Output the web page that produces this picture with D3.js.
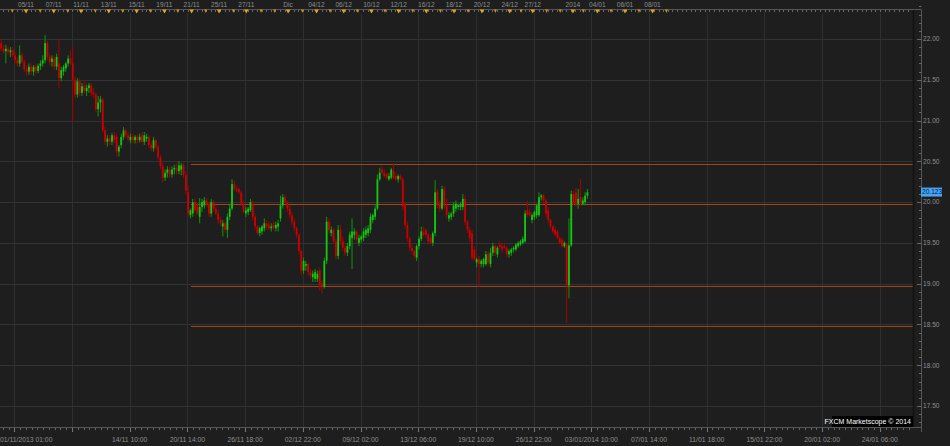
<!DOCTYPE html>
<html><head><meta charset="utf-8">
<script src="https://cdn.jsdelivr.net/npm/d3@7/dist/d3.min.js"></script>
<style>html,body{margin:0;padding:0;background:#1e1e1e;}svg{display:block;}</style>
</head><body>
<svg id="chart" width="950" height="446"></svg>
<script>
// ---- DATA (H4 candles, bar index 0 = 01/11/2013 01:00) ----
const opens = [
21.95,21.88,21.85,21.88,21.84,21.86,21.80,21.74,21.70,21.80,
21.72,21.63,21.60,21.66,21.60,21.66,21.61,21.67,21.70,21.74,
21.95,21.78,21.72,21.76,21.66,21.70,21.52,21.60,21.64,21.70,
21.76,21.70,21.50,21.32,21.48,21.34,21.42,21.36,21.40,21.43,
21.34,21.32,21.14,21.22,21.26,20.88,20.74,20.78,20.74,20.82,
20.80,20.62,20.70,20.80,20.88,20.82,20.76,20.80,20.76,20.80,
20.76,20.82,20.74,20.78,20.80,20.70,20.66,20.76,20.68,20.55,
20.44,20.30,20.36,20.40,20.34,20.40,20.42,20.38,20.40,20.45,
20.33,20.12,19.84,19.86,20.00,19.96,19.82,19.94,19.96,20.02,
19.97,19.86,20.00,19.92,19.86,19.78,19.70,19.74,19.66,19.82,
19.92,20.22,20.16,20.16,20.12,19.98,19.86,19.88,19.90,19.98,
19.82,19.70,19.62,19.64,19.68,19.74,19.72,19.68,19.72,19.68,
19.70,19.80,19.96,20.06,20.00,19.92,19.84,19.76,19.68,19.60,
19.40,19.16,19.22,19.24,19.14,19.08,19.06,19.06,19.16,19.00,
18.96,19.28,19.76,19.62,19.66,19.52,19.34,19.66,19.52,19.44,
19.38,19.46,19.56,19.60,19.64,19.50,19.54,19.56,19.60,19.62,
19.66,19.78,19.82,19.92,20.28,20.40,20.36,20.34,20.28,20.30,
20.38,20.32,20.28,20.32,20.28,19.96,19.72,19.56,19.44,19.40,
19.32,19.46,19.55,19.64,19.66,19.60,19.56,19.50,19.62,20.12,
19.98,19.92,20.16,19.96,19.80,19.82,19.86,19.92,19.94,19.94,
19.94,20.04,19.76,19.66,19.62,19.42,19.26,19.30,19.24,19.24,
19.24,19.36,19.24,19.38,19.46,19.36,19.48,19.46,19.46,19.44,
19.36,19.38,19.42,19.42,19.46,19.48,19.50,19.52,19.90,19.88,
19.78,19.82,19.84,19.84,20.06,20.08,20.02,19.90,19.78,19.70,
19.66,19.64,19.56,19.54,19.46,19.48,18.98,19.47,20.10,20.12,
19.98,20.06,19.98,20.00,20.08];
const highs = [
22.00,21.93,21.93,21.92,21.90,21.90,21.84,21.78,21.92,21.84,
21.75,21.68,21.70,21.70,21.68,21.70,21.70,21.74,21.80,22.05,
21.98,21.82,21.80,21.80,21.82,22.00,21.66,21.68,21.72,21.80,
21.86,21.90,21.54,21.52,21.52,21.46,21.48,21.44,21.46,21.46,
21.40,21.35,21.30,21.30,21.28,20.92,20.82,20.82,20.85,20.86,
20.84,20.70,20.84,20.92,20.90,20.86,20.84,20.84,20.82,20.83,
20.84,20.86,20.86,20.84,20.82,20.74,20.80,20.78,20.70,20.58,
20.48,20.40,20.44,20.44,20.44,20.46,20.48,20.50,20.48,20.48,
20.38,20.20,19.92,20.04,20.04,20.00,20.05,20.04,20.06,20.05,
20.00,20.04,20.02,19.96,19.90,19.82,19.78,19.76,19.86,19.98,
20.28,20.26,20.20,20.18,20.14,20.02,19.94,19.94,20.04,20.02,
19.86,19.72,19.70,19.72,19.80,19.78,19.76,19.74,19.76,19.76,
19.78,20.08,20.10,20.09,20.02,19.96,19.88,19.80,19.70,19.62,
19.42,19.32,19.28,19.26,19.18,19.16,19.18,19.16,19.20,19.04,
19.32,19.82,19.80,19.70,19.68,19.56,19.72,19.72,19.58,19.48,
19.50,19.64,19.80,19.68,19.66,19.60,19.60,19.68,19.70,19.72,
19.86,19.86,19.96,20.34,20.42,20.44,20.40,20.36,20.36,20.42,
20.48,20.36,20.34,20.34,20.30,20.00,19.76,19.58,19.48,19.42,
19.48,19.58,19.70,19.70,19.68,19.62,19.60,19.64,20.27,20.16,
20.02,20.20,20.20,20.04,19.88,19.88,20.00,20.02,19.98,20.00,
20.10,20.08,19.78,19.70,19.66,19.46,19.32,19.34,19.30,19.32,
19.40,19.40,19.44,19.50,19.48,19.46,19.52,19.50,19.50,19.46,
19.42,19.44,19.46,19.50,19.52,19.54,19.58,19.90,20.02,19.92,
19.86,19.90,19.98,20.12,20.10,20.10,20.04,19.94,19.80,19.72,
19.70,19.66,19.58,19.56,19.52,19.50,19.80,20.14,20.14,20.18,
20.16,20.28,20.06,20.12,20.16];
const lows = [
21.85,21.82,21.70,21.80,21.78,21.78,21.70,21.66,21.66,21.70,
21.60,21.55,21.56,21.56,21.55,21.57,21.58,21.62,21.66,21.70,
21.74,21.68,21.66,21.62,21.62,21.40,21.48,21.55,21.60,21.66,
21.68,20.98,21.28,21.28,21.30,21.30,21.33,21.30,21.34,21.30,
21.28,21.10,21.05,21.10,20.85,20.70,20.68,20.70,20.70,20.72,
20.56,20.56,20.66,20.76,20.78,20.74,20.72,20.72,20.72,20.72,
20.73,20.72,20.70,20.74,20.66,20.62,20.62,20.64,20.52,20.40,
20.24,20.26,20.30,20.30,20.30,20.34,20.34,20.34,20.33,20.30,
20.10,19.82,19.80,19.82,19.88,19.84,19.74,19.88,19.92,19.94,
19.82,19.82,19.88,19.84,19.74,19.70,19.58,19.62,19.56,19.78,
19.90,20.14,20.12,20.10,19.96,19.86,19.82,19.84,19.88,19.78,
19.66,19.60,19.58,19.60,19.64,19.66,19.66,19.64,19.66,19.64,
19.64,19.76,19.92,19.98,19.88,19.80,19.72,19.64,19.56,19.36,
19.10,19.12,19.16,19.10,19.06,19.02,19.02,19.02,18.92,18.88,
18.94,19.24,19.62,19.58,19.50,19.30,19.30,19.48,19.40,19.34,
19.34,19.42,19.18,19.54,19.50,19.46,19.50,19.52,19.56,19.58,
19.62,19.74,19.78,19.90,20.26,20.34,20.30,20.28,20.26,20.28,
20.28,20.26,20.24,20.26,19.90,19.68,19.52,19.40,19.36,19.30,
19.28,19.42,19.52,19.58,19.56,19.48,19.48,19.46,19.58,19.92,
19.88,19.90,19.92,19.80,19.76,19.78,19.82,19.88,19.90,19.90,
19.90,19.72,19.62,19.52,19.28,19.28,19.20,18.96,19.20,19.20,
19.22,19.22,19.20,19.34,19.34,19.32,19.42,19.38,19.42,19.32,
19.32,19.34,19.38,19.40,19.44,19.46,19.48,19.50,19.82,19.82,
19.74,19.78,19.80,19.82,20.02,19.98,19.82,19.74,19.68,19.62,
19.58,19.54,19.48,19.44,19.44,18.52,18.82,19.45,19.96,19.94,
19.92,19.96,19.96,19.96,20.04];
const closes = [
21.88,21.85,21.88,21.84,21.86,21.80,21.74,21.70,21.80,21.72,
21.63,21.60,21.66,21.60,21.66,21.61,21.67,21.70,21.74,21.95,
21.78,21.72,21.76,21.66,21.78,21.52,21.62,21.66,21.70,21.76,
21.70,21.50,21.32,21.48,21.34,21.42,21.36,21.40,21.43,21.34,
21.32,21.14,21.22,21.26,20.88,20.74,20.78,20.74,20.82,20.76,
20.62,20.68,20.80,20.88,20.82,20.78,20.80,20.76,20.80,20.76,
20.80,20.74,20.82,20.80,20.70,20.66,20.76,20.68,20.55,20.44,
20.30,20.36,20.40,20.34,20.40,20.42,20.38,20.45,20.45,20.33,
20.14,19.86,19.90,20.00,19.90,19.86,19.94,20.00,20.02,19.97,
19.86,20.00,19.92,19.86,19.78,19.74,19.74,19.66,19.82,19.92,
20.22,20.16,20.14,20.12,19.98,19.88,19.90,19.92,20.00,19.82,
19.70,19.62,19.68,19.70,19.74,19.70,19.68,19.70,19.68,19.72,
19.74,19.96,20.06,20.00,19.92,19.84,19.76,19.68,19.60,19.40,
19.16,19.28,19.24,19.14,19.10,19.12,19.14,19.12,18.98,18.96,
19.28,19.76,19.66,19.66,19.52,19.34,19.66,19.52,19.44,19.38,
19.46,19.60,19.64,19.64,19.54,19.56,19.58,19.64,19.66,19.68,
19.82,19.84,19.92,20.28,20.36,20.36,20.32,20.30,20.32,20.40,
20.30,20.28,20.32,20.28,19.94,19.72,19.56,19.44,19.40,19.34,
19.46,19.55,19.64,19.60,19.60,19.52,19.50,19.62,20.12,19.96,
19.92,20.16,19.96,19.84,19.84,19.86,19.96,19.98,19.96,19.97,
20.04,19.76,19.66,19.56,19.32,19.30,19.30,19.24,19.28,19.30,
19.36,19.26,19.38,19.46,19.38,19.44,19.45,19.42,19.44,19.36,
19.40,19.42,19.44,19.48,19.50,19.52,19.55,19.86,19.84,19.84,
19.84,19.88,19.96,20.06,20.08,20.02,19.86,19.78,19.70,19.64,
19.60,19.56,19.50,19.46,19.50,18.98,19.47,20.10,19.98,19.98,
20.04,20.00,20.02,20.08,20.12];

const lastPriceLabel = "20.123";
const lastPrice = 20.123;

// horizontal level lines (price) drawn from bar index levelStart to right edge
const levels = [20.465, 19.975, 18.977, 18.477];
const levelStart = 82.2;

// price axis
const priceTicks = [17.5, 18.0, 18.5, 19.0, 19.5, 20.0, 20.5, 21.0, 21.5, 22.0];

// bottom axis: labels at grid positions (bar index)
const bottomLabels = ["01/11/2013 01:00", "", "14/11 10:00", "20/11 14:00", "26/11 18:00", "02/12 22:00",
  "09/12 02:00", "13/12 06:00", "19/12 10:00", "26/12 22:00", "03/01/2014 10:00", "07/01 14:00",
  "11/01 18:00", "15/01 22:00", "20/01 02:00", "24/01 06:00"];
const bottomIdx = [5.68, 30.68, 55.68, 80.68, 105.68, 130.68, 155.68, 180.68, 205.68, 230.68,
  255.68, 280.68, 305.68, 330.68, 355.68, 380.68];

// top axis: day markers (bar index)
const topLabels = ["05/11","07/11","11/11","13/11","15/11","19/11","21/11","25/11","27/11","Dic",
  "04/12","06/12","10/12","12/12","16/12","18/12","20/12","24/12","27/12","2014","04/01","06/01","08/01"];
const topIdx = [10.75,22.75,34.6,46.6,58.7,70.7,82.5,94.4,106.2,124.3,136.6,148.4,160.4,172.2,184.2,
  196.2,208.3,220.3,230.3,247.7,258.3,270.3,282.2];
const smallDayIdx = [4.8,16.9,28.8,40.8,52.6,64.6,76.5,88.6,100.6,112.6,118.5,130.5,142.5,154.3,166.3,
  178.3,190.3,202.3,214.1,225.3,236.3,242.2,252.2,264.2,276.3,288.2];

// ---- DRAW ----
const W = 950, H = 446;
const plotL = 0, plotR = 913, plotT = 13, plotB = 427;
const svg = d3.select("#chart");
const font = "'Liberation Sans', Arial, sans-serif";
const axisCol = "#8e8e8e";

const x = d3.scaleLinear().domain([0, 254]).range([1.2, 1.2 + 2.308 * 254]);
const y = d3.scaleLinear().domain([17.5, 22]).range([406, 39]);
const maxIdx = x.invert(plotR);

svg.append("rect").attr("width", W).attr("height", H).attr("fill", "#1e1e1e");

const grid = svg.append("g");
// vertical grid
grid.selectAll("line.v").data(bottomIdx).join("line")
  .attr("x1", d => Math.round(x(d)) + 0.5).attr("x2", d => Math.round(x(d)) + 0.5)
  .attr("y1", plotT).attr("y2", plotB).attr("stroke", "#2f2f2f").attr("stroke-width", 1);
// horizontal grid
grid.selectAll("line.h").data(priceTicks).join("line")
  .attr("x1", plotL).attr("x2", plotR)
  .attr("y1", d => Math.round(y(d)) + 0.5).attr("y2", d => Math.round(y(d)) + 0.5)
  .attr("stroke", "#303236").attr("stroke-width", 1);

// level lines
svg.append("g").selectAll("line").data(levels).join("line")
  .attr("x1", x(levelStart)).attr("x2", plotR)
  .attr("y1", d => Math.round(y(d)) + 0.5).attr("y2", d => Math.round(y(d)) + 0.5)
  .attr("stroke", "#a8440f").attr("stroke-width", 1);

// candles
const idx = d3.range(opens.length);
const up = i => closes[i] >= opens[i];
const cg = svg.append("g");
cg.selectAll("line").data(idx).join("line")
  .attr("x1", i => x(i)).attr("x2", i => x(i))
  .attr("y1", i => y(Math.max(highs[i], opens[i], closes[i])))
  .attr("y2", i => y(Math.min(lows[i], opens[i], closes[i])))
  .attr("stroke", i => up(i) ? "#0a9a0a" : "#a80000").attr("stroke-width", 1);
cg.selectAll("rect").data(idx).join("rect")
  .attr("x", i => x(i) - 0.9).attr("width", 1.8)
  .attr("y", i => y(Math.max(opens[i], closes[i])))
  .attr("height", i => Math.max(1, Math.abs(y(opens[i]) - y(closes[i]))))
  .attr("fill", i => up(i) ? "#12c812" : "#cc0000");

// right frame + axis
svg.append("line").attr("x1", plotR + 0.5).attr("x2", plotR + 0.5).attr("y1", 9.5).attr("y2", plotB)
  .attr("stroke", "#121212").attr("stroke-width", 1.5);
svg.append("line").attr("x1", 921.5).attr("x2", 921.5).attr("y1", 9.5).attr("y2", 432)
  .attr("stroke", "#555").attr("stroke-width", 1);
const minorP = d3.range(173, 225).map(v => v / 10);
svg.append("g").selectAll("line").data(minorP).join("line")
  .attr("x1", d => (Math.abs(d * 2 - Math.round(d * 2)) < 1e-6) ? 917 : 919)
  .attr("x2", 921.5)
  .attr("y1", d => Math.round(y(d)) + 0.5).attr("y2", d => Math.round(y(d)) + 0.5)
  .attr("stroke", "#666").attr("stroke-width", 1);
svg.append("g").selectAll("text").data(priceTicks).join("text")
  .attr("x", 923).attr("y", d => y(d)).attr("dy", "0.35em")
  .attr("font-family", font).attr("font-size", 6.6).attr("fill", axisCol)
  .text(d => d.toFixed(2));

// last price tag
svg.append("rect").attr("x", 921).attr("y", y(lastPrice) - 4.5).attr("width", 21).attr("height", 9)
  .attr("fill", "#45a4f5");
svg.append("text").attr("x", 922).attr("y", y(lastPrice)).attr("dy", "0.35em")
  .attr("font-family", font).attr("font-size", 6.6).attr("fill", "#06163a").text(lastPriceLabel);

// bottom axis
svg.append("line").attr("x1", 0).attr("x2", 921.5).attr("y1", plotB + 0.5).attr("y2", plotB + 0.5)
  .attr("stroke", "#555");
const bMinor = d3.range(0, 160).map(k => bottomIdx[0] - 5 + k * 2.5).filter(v => x(v) >= 0 && x(v) <= plotR);
svg.append("g").selectAll("line").data(bMinor).join("line")
  .attr("x1", d => Math.round(x(d)) + 0.5).attr("x2", d => Math.round(x(d)) + 0.5)
  .attr("y1", plotB + 1).attr("y2", (d, k) => 430)
  .attr("stroke", "#666");
svg.append("g").selectAll("line").data(bottomIdx).join("line")
  .attr("x1", d => Math.round(x(d)) + 0.5).attr("x2", d => Math.round(x(d)) + 0.5)
  .attr("y1", plotB + 1).attr("y2", 432).attr("stroke", "#777");
svg.append("g").selectAll("text").data(bottomIdx).join("text")
  .attr("x", (d, k) => k === 0 ? 0 : x(d)).attr("y", 440).attr("dy", "0.35em")
  .attr("text-anchor", (d, k) => k === 0 ? "start" : "middle")
  .attr("font-family", font).attr("font-size", 6.8).attr("fill", axisCol)
  .text((d, k) => bottomLabels[k]);

// top axis
svg.append("line").attr("x1", 0).attr("x2", 921.5).attr("y1", 9.5).attr("y2", 9.5).attr("stroke", "#555");
const tMinor = d3.range(0, 200).map(k => 0.8 + k * 2).filter(v => x(v) <= plotR - 2);
svg.append("g").selectAll("line").data(tMinor).join("line")
  .attr("x1", d => Math.round(x(d)) + 0.5).attr("x2", d => Math.round(x(d)) + 0.5)
  .attr("y1", 10).attr("y2", 12).attr("stroke", "#6a6a6a");
const tri = (cx, w, h) => `M${cx - w / 2},9.5L${cx + w / 2},9.5L${cx},${9.5 + h}Z`;
svg.append("g").selectAll("path").data(smallDayIdx).join("path")
  .attr("d", d => tri(x(d), 3, 3.5)).attr("fill", "#c8961a");
svg.append("g").selectAll("path").data(topIdx).join("path")
  .attr("d", d => tri(x(d), 4.5, 4)).attr("fill", "#e0a81c");
svg.append("g").selectAll("text").data(topIdx).join("text")
  .attr("x", d => x(d)).attr("y", 4.6).attr("dy", "0.35em").attr("text-anchor", "middle")
  .attr("font-family", font).attr("font-size", 6.6).attr("fill", axisCol)
  .text((d, k) => topLabels[k]);

// watermark
svg.append("rect").attr("x", 832).attr("y", 416).attr("width", 81).attr("height", 11).attr("fill", "#000");
svg.append("text").attr("x", 911).attr("y", 422).attr("dy", "0.35em").attr("text-anchor", "end")
  .attr("font-family", font).attr("font-size", 7).attr("fill", "#fff").text("FXCM Marketscope © 2014");
</script>
</body></html>
